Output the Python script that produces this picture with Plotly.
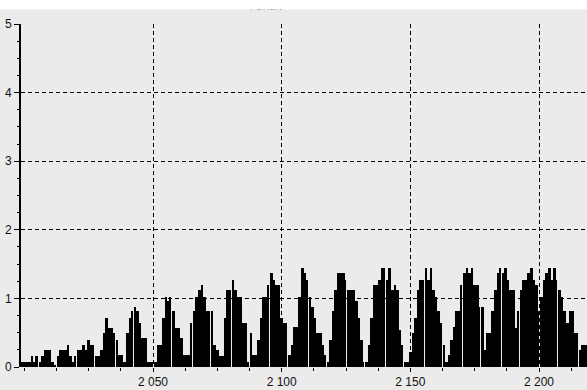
import plotly.graph_objects as go

# ---- data ----
years = list(range(1999, 2219))
values = [
    0.08, 0.08, 0.08, 0.08, 0.16, 0.08, 0.16, 0.08, 0.16, 0.25,   # 1999-2008
    0.25, 0.25, 0.08, 0.02, 0.16, 0.25, 0.25, 0.25, 0.32, 0.16,   # 2009-2018
    0.08, 0.16, 0.25, 0.25, 0.32, 0.25, 0.40, 0.32, 0.32, 0.16,   # 2019-2028
    0.16, 0.25, 0.49, 0.71, 0.57, 0.57, 0.49, 0.40, 0.17, 0.17,   # 2029-2038
    0.08, 0.49, 0.71, 0.81, 0.88, 0.81, 0.64, 0.42, 0.42, 0.08,   # 2039-2048
    0.08, 0.08, 0.08, 0.32, 0.32, 0.71, 1.02, 0.96, 1.02, 0.81,   # 2049-2058
    0.57, 0.57, 0.42, 0.17, 0.17, 0.17, 0.64, 0.81, 1.02, 1.12,   # 2059-2068
    1.20, 1.02, 0.81, 0.81, 0.81, 0.32, 0.25, 0.16, 0.16, 0.71,   # 2069-2078
    1.12, 1.12, 1.27, 1.12, 1.02, 1.02, 0.64, 0.64, 0.08, 0.49,   # 2079-2088
    0.17, 0.17, 0.40, 0.71, 1.02, 1.02, 1.20, 1.37, 1.27, 1.20,   # 2089-2098
    1.20, 0.71, 0.64, 0.64, 0.17, 0.32, 0.59, 0.59, 1.02, 1.44,   # 2099-2108
    1.37, 1.27, 1.02, 0.88, 0.71, 0.49, 0.49, 0.32, 0.17, 0.08,   # 2109-2118
    0.40, 0.81, 1.12, 1.37, 1.37, 1.37, 1.27, 1.12, 1.12, 1.12,   # 2119-2128
    0.96, 0.71, 0.40, 0.08, 0.08, 0.32, 0.71, 1.20, 1.20, 1.27,   # 2129-2138
    1.44, 1.44, 1.27, 1.44, 1.12, 1.20, 1.12, 0.54, 0.32, 0.08,   # 2139-2148
    0.08, 0.22, 0.49, 0.71, 1.12, 1.27, 1.27, 1.44, 1.27, 1.44,   # 2149-2158
    1.12, 1.02, 0.81, 0.64, 0.32, 0.08, 0.17, 0.40, 0.59, 0.81,   # 2159-2168
    0.81, 1.20, 1.37, 1.44, 1.37, 1.44, 1.20, 1.20, 0.88, 0.88,   # 2169-2178
    0.25, 0.49, 0.49, 0.81, 1.12, 1.37, 1.44, 1.37, 1.44, 1.27,   # 2179-2188
    1.12, 1.12, 0.57, 0.81, 1.12, 1.27, 1.27, 1.37, 1.44, 1.27,   # 2189-2198
    1.20, 0.81, 1.02, 1.27, 1.37, 1.44, 1.27, 1.44, 1.27, 1.12,   # 2199-2208
    1.02, 0.81, 0.64, 0.81, 0.81, 0.49, 0.49, 0.25, 0.32, 0.32,   # 2209-2218
]
x_tick_vals = [2050, 2100, 2150, 2200]
x_tick_text = ["2 050", "2 100", "2 150", "2 200"]
y_tick_vals = [0, 1, 2, 3, 4, 5]
y_tick_text = ["0", "1", "2", "3", "4", "5"]
title_text = "TChart"

# ---- styling: thin rendering gaps seen between some bars ----
gap_years = set(round(2140.2 + 7.5 * k - 0.3) for k in range(-20, 12))
widths = [0.62 if y in gap_years else 1.0 for y in years]
offsets = [-0.5 for _ in years]

BG = "#EBEBEB"
FONT = "Liberation Sans, Arial, sans-serif"

fig = go.Figure()
fig.add_trace(go.Bar(
    x=years, y=values, width=widths, offset=offsets,
    marker=dict(color="#000000", line=dict(width=0)),
    hoverinfo="x+y",
))

W, H = 587, 390
ml, mr, mt, mb = 21, 0, 24, 23
pw, ph = W - ml - mr, H - mt - mb

fig.update_layout(
    template="none",
    width=W, height=H,
    margin=dict(l=ml, r=mr, t=mt, b=mb, pad=0, autoexpand=False),
    paper_bgcolor=BG, plot_bgcolor=BG,
    showlegend=False, bargap=0,
    font=dict(family=FONT, size=12, color="#111111"),
    xaxis=dict(
        range=[1998.7, 2218.65], automargin=False,
        tickmode="array", tickvals=x_tick_vals, ticktext=x_tick_text,
        showgrid=True, gridcolor="#000000", gridwidth=1, griddash="4px,3px",
        ticks="outside", ticklen=4, tickcolor="#000000",
        showline=False, zeroline=False,
        minor=dict(tick0=2050, dtick=12.5, ticks="outside", ticklen=3,
                   tickcolor="#000000", showgrid=False),
        tickfont=dict(family=FONT, size=12, color="#111111"),
        fixedrange=True,
    ),
    yaxis=dict(
        range=[0, 5], automargin=False,
        tickmode="array", tickvals=y_tick_vals, ticktext=y_tick_text,
        showgrid=True, gridcolor="#000000", gridwidth=1, griddash="4px,3px",
        ticks="outside", ticklen=5, tickcolor="#000000",
        showline=True, linecolor="#000000", linewidth=2,
        zeroline=False,
        minor=dict(tick0=0, dtick=0.25, ticks="outside", ticklen=2,
                   tickcolor="#000000", showgrid=False),
        tickfont=dict(family=FONT, size=12, color="#111111"),
        fixedrange=True,
    ),
    shapes=[
        dict(type="rect", xref="paper", yref="paper",
             x0=-ml / pw, x1=1.0, y0=1 + (mt - 9) / ph, y1=1 + mt / ph,
             fillcolor="#FFFFFF", line=dict(width=0), layer="below"),
    ],
    annotations=[
        dict(text=title_text, xref="paper", yref="paper",
             x=(265 - ml) / pw, y=1 + (mt - 14) / ph,
             xanchor="center", yanchor="bottom", showarrow=False,
             font=dict(family=FONT, size=11, color="#444444")),
        dict(text=" ", xref="paper", yref="paper",
             x=-ml / pw, y=1 + mt / ph, xanchor="left", yanchor="top",
             width=W, height=8, borderpad=0, bgcolor="#FFFFFF",
             showarrow=False, font=dict(size=6)),
    ],
)

fig.write_html(
    "out.html",
    config={"displayModeBar": False, "responsive": False},
    post_script="document.body.style.margin='0';document.body.style.padding='0';"
                "document.body.style.overflow='hidden';",
)
